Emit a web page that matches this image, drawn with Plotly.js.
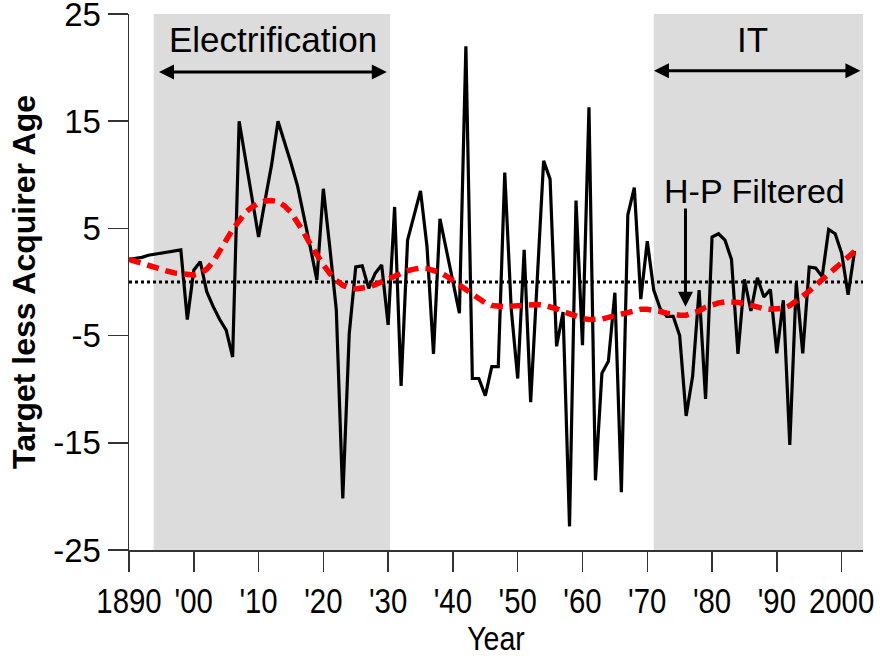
<!DOCTYPE html>
<html>
<head>
<meta charset="utf-8">
<script src="https://cdn.plot.ly/plotly-3.0.1.min.js"></script>
<style>html,body{margin:0;padding:0;background:#fff;}#chart{width:881px;height:657px;}</style>
</head>
<body>
<div id="chart"></div>
<script>
// Target less acquirer age, annual values 1890-2002
const startYear = 1890;
const targetLessAcquirer = [
  2.1, 2.2, 2.3, 2.5, 2.6, 2.7, 2.8, 2.9, 3.0, -3.5,
  1.1, 1.9, -0.9, -2.3, -3.5, -4.5, -7.0, 15.0, 11.3, 7.6,
  4.2, 7.6, 10.9, 15.0, 13.1, 11.1, 9.0, 6.2, 3.2, 0.2,
  8.7, 3.2, -2.6, -20.2, -4.8, 1.4, 1.5, -0.6, 0.8, 1.6,
  -4.0, 7.0, -9.7, 3.9, 6.1, 8.5, 3.3, -6.7, 5.9, 3.0,
  -0.1, -2.9, 22.0, -9.0, -9.0, -10.6, -7.9, -7.9, 10.2, -2.5,
  -9.0, 3.0, -11.2, 0.0, 11.3, 9.6, -6.0, -2.8, -22.8, 7.6,
  -5.9, 16.3, -18.5, -8.5, -7.4, -1.0, -19.6, 6.25, 8.8, -1.6,
  3.8, -0.75, -2.5, -3.2, -3.2, -5.0, -12.5, -8.8, -0.75, -10.9,
  4.2, 4.5, 3.9, 2.1, -6.7, 0.25, -2.7, 0.4, -1.4, -0.7,
  -6.65, -1.7, -15.2, -0.05, -6.65, 1.4, 1.3, 0.5, 4.9, 4.5,
  2.7, -1.2, 2.9
];
// Hodrick-Prescott filtered trend
const hpFiltered = [
  2.1, 1.9, 1.7, 1.5, 1.35, 1.15, 1.0, 0.85, 0.75, 0.7,
  0.65, 0.8, 1.2, 1.9, 2.8, 3.9, 4.9, 5.8, 6.5, 7.0,
  7.35, 7.55, 7.6, 7.5, 7.1, 6.5, 5.6, 4.6, 3.5, 2.5,
  1.6, 0.8, 0.15, -0.3, -0.55, -0.65, -0.6, -0.45, -0.25, 0.0,
  0.3, 0.55, 0.85, 1.05, 1.2, 1.3, 1.25, 1.1, 0.9, 0.55,
  0.15, -0.3, -0.8, -1.2, -1.6, -1.95, -2.2, -2.3, -2.3, -2.25,
  -2.2, -2.15, -2.1, -2.1, -2.15, -2.3, -2.5, -2.75, -3.0, -3.2,
  -3.4, -3.5, -3.5, -3.45, -3.3, -3.15, -2.95, -2.75, -2.6, -2.55,
  -2.55, -2.6, -2.75, -2.9, -3.05, -3.1, -3.1, -2.95, -2.7, -2.35,
  -2.1, -1.95, -1.85, -1.85, -1.9, -2.0, -2.2, -2.35, -2.5, -2.55,
  -2.55, -2.45, -2.2, -1.8, -1.3, -0.85, -0.3, 0.25, 0.8, 1.35,
  1.85, 2.35, 2.85
];
const years = targetLessAcquirer.map((_, i) => startYear + i);

const xTickVals = [1890, 1900, 1910, 1920, 1930, 1940, 1950, 1960, 1970, 1980, 1990, 2000];
const xTickText = ["1890", "'00", "'10", "'20", "'30", "'40", "'50", "'60", "'70", "'80", "'90", "2000"];
const yTickVals = [25, 15, 5, -5, -15, -25];
const yTickText = ["25", "15", "5", "-5", "-15", "-25"];

// Era bands [start, end]
const electrificationEra = [1893.8, 1930.3];
const itEra = [1971.0, 2003.3];
const xRange = [1890, 2003.3];

const axisColor = '#333333';
const font = 'Arial, "Liberation Sans", sans-serif';

const traces = [
  {
    x: years, y: targetLessAcquirer, type: 'scatter', mode: 'lines',
    line: {color: '#000000', width: 3.2}, hoverinfo: 'skip'
  },
  {
    x: years, y: hpFiltered, type: 'scatter', mode: 'lines',
    line: {color: '#FF0000', width: 5.5, dash: '12px,7px'}, hoverinfo: 'skip'
  }
];

const layout = {
  width: 881, height: 657,
  margin: {l: 129, r: 18, t: 14, b: 107},
  paper_bgcolor: '#ffffff', plot_bgcolor: '#ffffff',
  showlegend: false,
  font: {family: font, color: '#000000'},
  xaxis: {
    range: xRange, tickmode: 'array', tickvals: xTickVals, ticktext: xTickText,
    ticks: 'outside', ticklen: 20, tickwidth: 1.5, tickcolor: axisColor, tickangle: 0,
    showline: true, linecolor: axisColor, linewidth: 1.5,
    showgrid: false, zeroline: false, ticklabeloverflow: 'allow',
    tickfont: {family: font, size: 35, color: '#000'},
    title: {text: 'Year', font: {family: font, size: 34, color: '#000'}, standoff: 2}
  },
  yaxis: {
    range: [-25.001, 25.001], tickmode: 'array', tickvals: yTickVals, ticktext: yTickText,
    ticks: 'outside', ticklen: 20, tickwidth: 1.5, tickcolor: axisColor,
    showline: true, linecolor: axisColor, linewidth: 1.5,
    showgrid: false, zeroline: false, ticklabeloverflow: 'allow',
    tickfont: {family: font, size: 33, color: '#000'},
    title: {text: '<b>Target less Acquirer Age</b>', font: {family: font, size: 32, color: '#000'}, standoff: 8}
  },
  shapes: [
    {type: 'rect', xref: 'x', yref: 'y', x0: electrificationEra[0], x1: electrificationEra[1], y0: -25.15, y1: 25,
     fillcolor: '#DCDCDC', line: {width: 0}, layer: 'below'},
    {type: 'rect', xref: 'x', yref: 'y', x0: itEra[0], x1: itEra[1], y0: -25.15, y1: 25,
     fillcolor: '#DCDCDC', line: {width: 0}, layer: 'below'},
    {type: 'line', xref: 'x', yref: 'y', x0: xRange[0], x1: xRange[1], y0: 0, y1: 0,
     line: {color: '#000000', width: 3, dash: 'dot'}, layer: 'below'}
  ],
  annotations: [
    {x: 1912.3, y: 22.6, xref: 'x', yref: 'y', text: 'Electrification', showarrow: false,
     font: {family: font, size: 35, color: '#000'}, xanchor: 'center', yanchor: 'middle'},
    {x: 1986.2, y: 22.6, xref: 'x', yref: 'y', text: 'IT', showarrow: false,
     font: {family: font, size: 35, color: '#000'}, xanchor: 'center', yanchor: 'middle'},
    {x: 1986.6, y: 8.5, xref: 'x', yref: 'y', text: 'H-P Filtered', showarrow: false,
     font: {family: font, size: 34, color: '#000'}, xanchor: 'center', yanchor: 'middle'},
    {x: 1929.8, y: 19.6, ax: 1894.4, ay: 19.6, xref: 'x', yref: 'y', axref: 'x', ayref: 'y',
     text: '', showarrow: true, arrowside: 'end+start', arrowhead: 2, startarrowhead: 2,
     arrowsize: 1, startarrowsize: 1, arrowwidth: 3, arrowcolor: '#000', standoff: 0, startstandoff: 0},
    {x: 2002.9, y: 19.7, ax: 1970.8, ay: 19.7, xref: 'x', yref: 'y', axref: 'x', ayref: 'y',
     text: '', showarrow: true, arrowside: 'end+start', arrowhead: 2, startarrowhead: 2,
     arrowsize: 1, startarrowsize: 1, arrowwidth: 3, arrowcolor: '#000', standoff: 0, startstandoff: 0},
    {x: 1975.9, y: -2.3, ax: 1975.9, ay: 7.0, xref: 'x', yref: 'y', axref: 'x', ayref: 'y',
     text: '', showarrow: true, arrowhead: 2, arrowsize: 1, arrowwidth: 3, arrowcolor: '#000', standoff: 0}
  ]
};

const gd = document.getElementById('chart');
Plotly.newPlot(gd, traces, layout, {staticPlot: true, displayModeBar: false}).then(function () {
  // condense the year labels horizontally, as in the reference
  gd.querySelectorAll('.xtick text, .xtitle').forEach(function (t) {
    const bb = t.getBBox();
    const cx = bb.x + bb.width / 2;
    const tr = t.getAttribute('transform') || '';
    t.setAttribute('transform', tr + ' translate(' + cx + ',0) scale(0.84,1) translate(' + (-cx) + ',0)');
  });
});
</script>
</body>
</html>
